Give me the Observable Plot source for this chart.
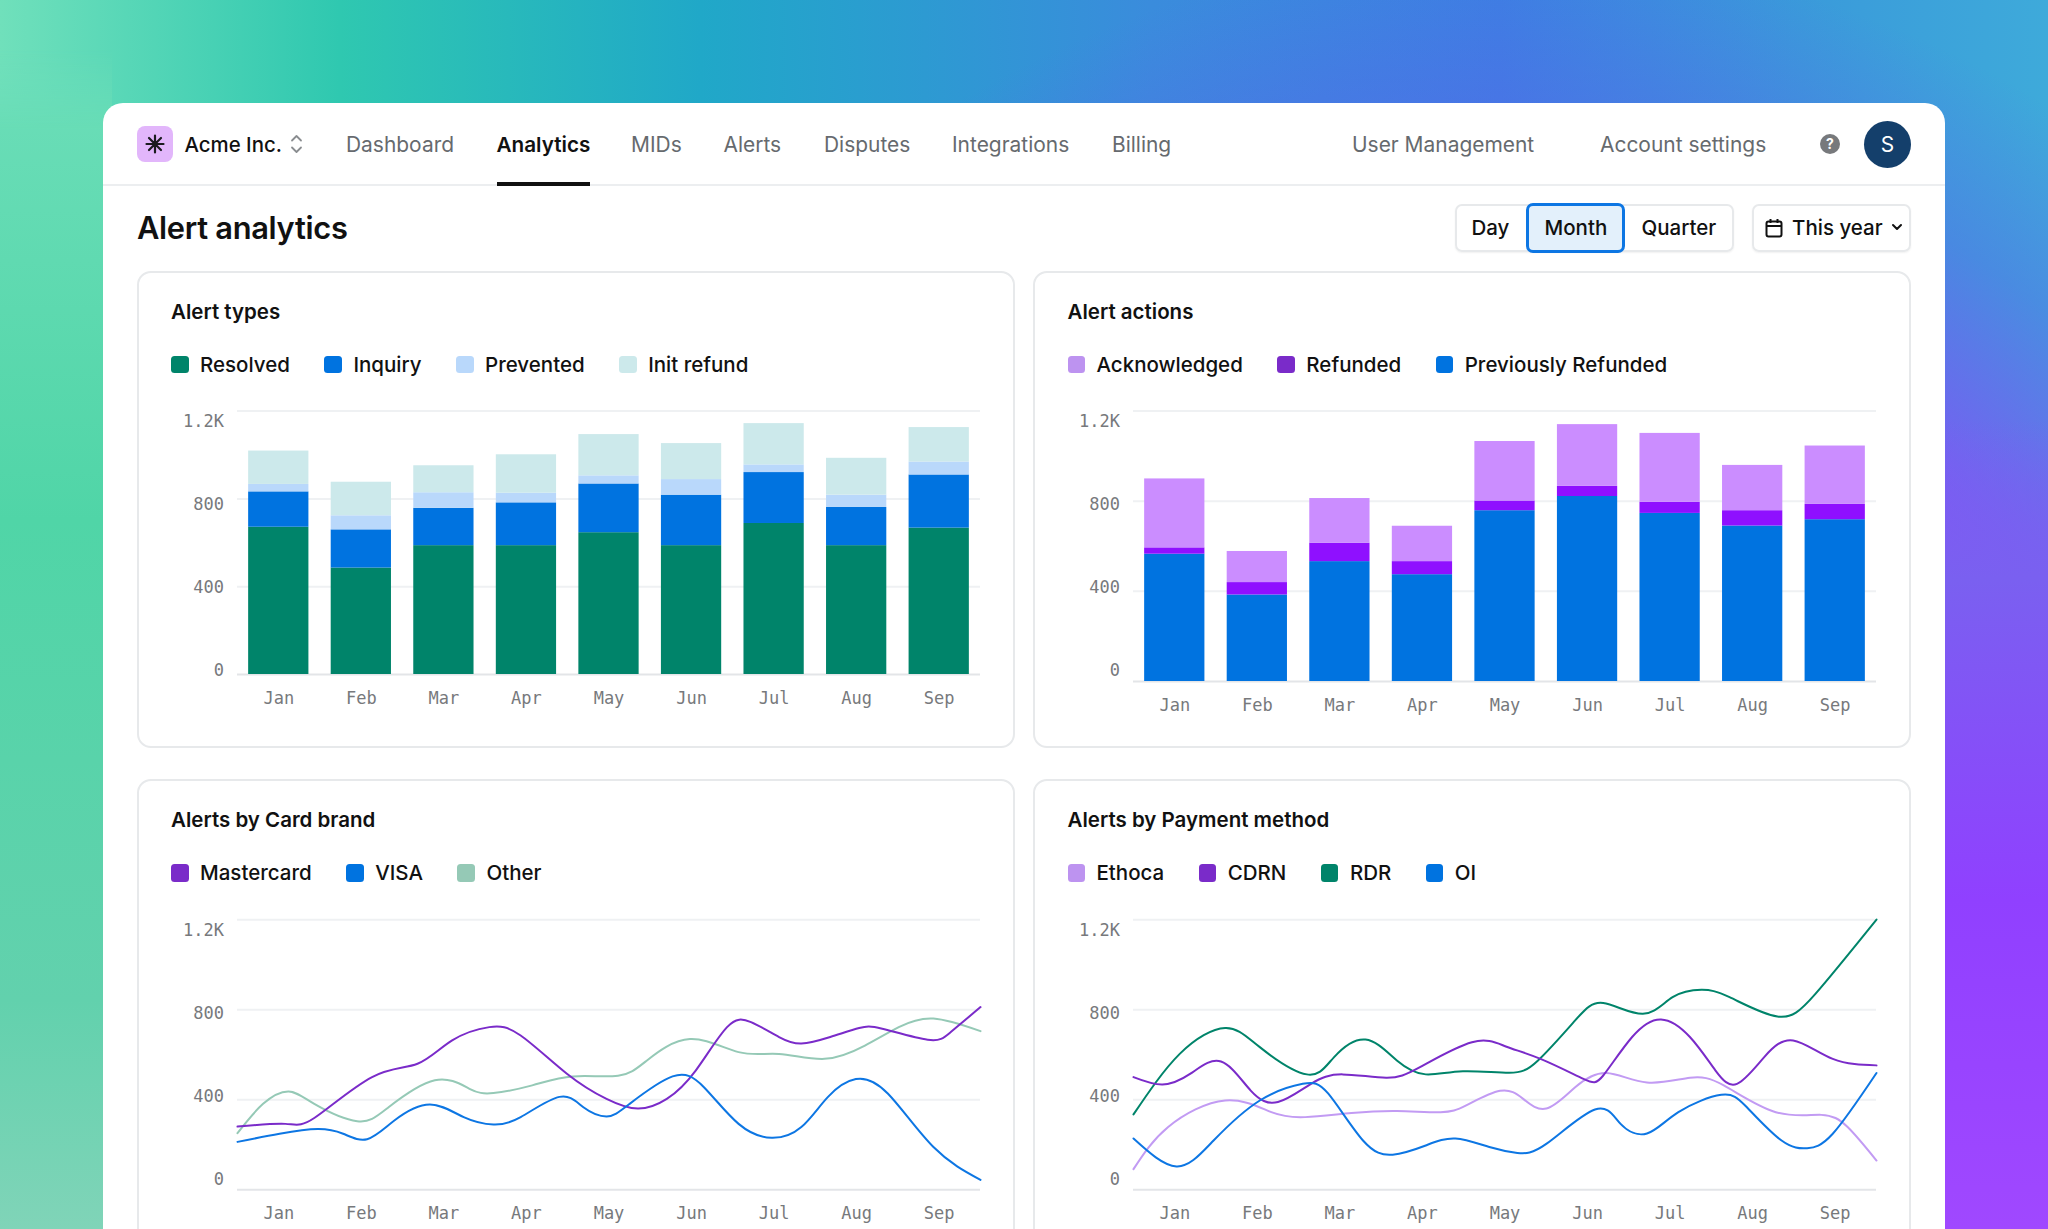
<!DOCTYPE html>
<html><head><meta charset="utf-8">
<script src="https://cdn.jsdelivr.net/npm/d3@7"></script>
<script src="https://cdn.jsdelivr.net/npm/@observablehq/plot@0.6"></script>
<style>
html,body{margin:0;padding:0;width:2048px;height:1229px;overflow:hidden}
body{position:relative;font-family:Inter,sans-serif;color:#111;
background:
 radial-gradient(circle 1000px at 1500px 1000px,#9a40ff 0,#9a40ff 52%,rgba(140,70,250,.75) 68%,rgba(90,100,235,.42) 88%,rgba(70,120,230,0) 105%),
 linear-gradient(90deg,#70e0bb 0,#2fc8b0 340px,#20a8c8 700px,#3a8cdc 1150px,#3c80e2 1500px,#3a9ada 1800px,#3eaada 2048px);}
.strip{position:absolute;left:0;top:0;width:112px;height:1229px;
background:linear-gradient(180deg,#70dfbb 0,#50d5a7 520px,#62d1ad 1000px,#80d4b8 1229px);
-webkit-mask-image:linear-gradient(180deg,transparent 50px,#000 130px)}
.stripR{position:absolute;left:1945px;top:420px;width:103px;height:809px;
background:linear-gradient(180deg,rgba(122,96,240,0) 0,#7a60f0 160px,#9040ff 480px,#a048ff 809px)}
.panel{position:absolute;left:103px;top:103px;width:1842px;height:1200px;background:#fff;border-radius:20px}
.a{position:absolute;white-space:nowrap}
.nav{font-size:20.95px;color:#666a6e;line-height:28px;top:131px;font-weight:400}
.nav.on{color:#111;font-weight:600;font-size:20.7px}
.card{position:absolute;box-sizing:border-box;border:2px solid #e7e9eb;border-radius:14px;background:#fff}
.ctitle{font-size:20.5px;font-weight:600;line-height:28px}
.legend{display:flex;align-items:center;gap:34.5px;font-size:20.5px;font-weight:500;line-height:28px}
.legend span.i{display:flex;align-items:center;gap:11.5px}
.legend b{display:block;width:17.5px;height:17.5px;border-radius:3.5px}
.plot{position:absolute}
.btn{font-size:20.5px;font-weight:500;line-height:28px;top:213.5px}
</style></head><body>
<div class="strip"></div><div class="stripR"></div>
<div class="panel"></div>
<div class="a" style="left:103px;top:184px;width:1842px;height:2px;background:#eceef0"></div>

<div class="a" style="left:137px;top:126px;width:36px;height:36px;border-radius:8px;background:#e2b6fb">
<svg width="36" height="36" viewBox="-18 -18 36 36" stroke="#1b1b1f" stroke-width="2.2" stroke-linecap="round"><path d="M0-8.5V8.5M-8.5 0H8.5M-6-6 6 6M-6 6 6-6"/></svg></div>
<div class="a nav" style="left:184.5px;color:#111;font-weight:500;font-size:20.4px">Acme Inc.</div>
<svg class="a" style="left:289px;top:133px" width="15" height="22" fill="none" stroke="#8a8d90" stroke-width="1.8" stroke-linecap="round" stroke-linejoin="round"><path d="M3 7.5 7.5 3 12 7.5M3 14.5 7.5 19 12 14.5"/></svg>
<div class="a nav" style="left:346px">Dashboard</div>
<div class="a nav on" style="left:496.5px">Analytics</div>
<div class="a" style="left:497px;top:182px;width:93px;height:3.5px;background:#111"></div>
<div class="a nav" style="left:631px">MIDs</div>
<div class="a nav" style="left:723.5px">Alerts</div>
<div class="a nav" style="left:824px">Disputes</div>
<div class="a nav" style="left:952px">Integrations</div>
<div class="a nav" style="left:1112px">Billing</div>
<div class="a nav" style="left:1352px">User Management</div>
<div class="a nav" style="left:1600px">Account settings</div>
<div class="a" style="left:1820px;top:134px;width:20px;height:20px;border-radius:50%;background:#77797c;color:#fff;font-size:14px;font-weight:700;line-height:20px;text-align:center">?</div>
<div class="a" style="left:1864px;top:120.5px;width:47px;height:47px;border-radius:50%;background:#143f6b;color:#fff;font-size:20.9px;line-height:47px;text-align:center">S</div>

<div class="a" style="left:137px;top:206.5px;font-size:30.8px;font-weight:600;line-height:42px;letter-spacing:-.3px">Alert analytics</div>
<div class="a" style="left:1455px;top:204px;width:279px;height:48px;box-sizing:border-box;border:2px solid #e7e9eb;border-radius:7px;box-shadow:0 1px 2px rgba(0,0,0,.06)"></div>
<div class="a" style="left:1526px;top:203px;width:99px;height:50px;box-sizing:border-box;border:3px solid #0d76e3;border-radius:7px;background:#e3f0fb"></div>
<div class="a btn" style="left:1471.5px">Day</div>
<div class="a btn" style="left:1544.5px">Month</div>
<div class="a btn" style="left:1641.5px">Quarter</div>
<div class="a" style="left:1752px;top:204px;width:159px;height:48px;box-sizing:border-box;border:2px solid #e7e9eb;border-radius:7px;box-shadow:0 1px 2px rgba(0,0,0,.06)"></div>
<svg class="a" style="left:1765px;top:218px" width="18" height="20" fill="none" stroke="#111" stroke-width="2"><rect x="1.5" y="3.5" width="15" height="15" rx="2"/><path d="M1.5 8H16.5M5.5 1V5M12.5 1V5"/></svg>
<div class="a btn" style="left:1792px">This year</div>
<svg class="a" style="left:1891px;top:222px" width="12" height="10" fill="none" stroke="#111" stroke-width="2" stroke-linecap="round" stroke-linejoin="round"><path d="M2 3 6 7 10 3"/></svg>

<div class="card" style="left:137px;top:270.5px;width:878px;height:477px"></div>
<div class="card" style="left:1033px;top:270.5px;width:878px;height:477px"></div>
<div class="card" style="left:137px;top:779px;width:878px;height:500px"></div>
<div class="card" style="left:1033px;top:779px;width:878px;height:500px"></div>

<div id="root"></div>
<script>
const months = ["Jan","Feb","Mar","Apr","May","Jun","Jul","Aug","Sep"];
const yTicks = [0,400,800,1200];
const yLabels = ["0","400","800","1.2K"];

// Alert types
const resolved  = [671,485,587,587,646,587,688,587,667];
const inquiry   = [161,174,170,195,222,230,232,174,242];
const prevented = [34,64,71,44,37,71,35,56,59];
const initRefund= [152,153,123,175,188,164,188,168,157];

// Alert actions
const previouslyRefunded = [565,384,532,474,758,821,746,690,718];
const refunded = [28,55,82,58,43,45,49,68,68];
const acknowledged = [306,138,198,157,264,274,306,201,259];

// Alerts by Card brand: position along the month axis (0 = start of Jan, 9 = end of Sep) and count
const mastercardX = [0,.58,.93,1.63,2.18,2.6,3.05,3.43,3.99,4.47,4.85,5.2,5.55,5.93,6.22,6.56,6.83,7.18,7.53,7.81,8.36,8.64,9];
const mastercardY = [281,293,319,501,560,664,723,686,516,404,361,404,530,723,745,679,650,679,719,716,667,701,812];
const visaX = [0,.51,.97,1.28,1.57,1.9,2.33,2.74,3.1,3.43,3.9,4.19,4.47,4.75,5.27,5.65,6.07,6.47,6.83,7.15,7.49,7.88,8.43,9];
const visaY = [213,249,270,249,225,308,379,323,290,323,413,367,326,382,504,456,293,231,279,412,492,427,190,44];
const otherX = [0,.31,.62,.93,1.45,1.83,2.39,2.81,3.1,3.57,4.06,4.61,4.96,5.48,6.07,6.56,7.11,7.6,8.01,8.43,9];
const otherY = [252,382,437,382,305,367,487,449,430,464,504,507,575,670,612,604,582,641,723,761,705];

// Alerts by Payment method
const ethocaX = [0,.42,1.11,1.67,2.08,2.64,3.19,3.72,4.03,4.44,4.72,5,5.35,5.73,6.22,6.74,7.15,7.78,8.33,8.65,9];
const ethocaY = [92,279,397,345,323,341,350,345,375,440,404,361,456,519,477,498,464,345,333,279,130];
const cdrnX = [0,.35,.69,1.06,1.42,1.75,2.15,2.53,3.06,3.47,4.1,4.51,4.93,5.45,5.69,6.04,6.39,6.74,7.05,7.31,7.64,7.99,8.47,9];
const cdrnY = [501,468,516,570,441,390,471,513,498,545,656,637,582,493,508,679,757,679,530,471,590,664,582,553];
const rdrX = [0,.56,1.11,1.53,2.1,2.43,2.81,3.19,3.54,3.99,4.55,4.9,5.35,5.69,6.17,6.53,6.88,7.22,7.8,8.26,9];
const rdrY = [335,604,719,634,513,590,668,575,513,527,520,575,753,830,782,856,889,856,770,871,1201];
const oiX = [0,.52,.97,1.53,2.05,2.36,2.78,3.14,3.54,3.9,4.31,4.65,5,5.59,5.9,6.22,6.6,7.12,7.43,7.85,8.16,8.47,9];
const oiY = [228,104,219,397,471,427,219,156,197,228,190,164,204,357,293,250,345,422,367,219,185,249,519];

const MONO = "'DejaVu Sans Mono',monospace";
const root = document.getElementById("root");

function place(node,left,top){ node.style.left=left+"px"; node.style.top=top+"px"; node.classList.add("plot"); root.appendChild(node); }
function text(cls,t,left,top){ const d=document.createElement("div"); d.className="a "+cls; d.textContent=t; d.style.left=left+"px"; d.style.top=top+"px"; root.appendChild(d); }
function legend(items,left,top){
  const d=document.createElement("div"); d.className="a legend"; d.style.left=left+"px"; d.style.top=top+"px";
  items.forEach(([n,c])=>{ const s=document.createElement("span"); s.className="i"; const b=document.createElement("b"); b.style.background=c; s.appendChild(b); s.append(n); d.appendChild(s); });
  root.appendChild(d);
}
function yMarks(){
  return yTicks.map(t=>Plot.ruleY([t],{stroke:t===0?"#e3e5e8":"#eff1f3",strokeWidth:2}));
}
function yLabelMarks(offsets){
  return yTicks.map((t,i)=>Plot.axisY([t],{anchor:"left",tickSize:0,tickPadding:13.5,label:null,dy:offsets[i],fill:"#77797c",tickFormat:()=>yLabels[i]}));
}
const base = {width:877,marginLeft:100,marginRight:34,
  style:{fontFamily:MONO,fontSize:"17px",background:"transparent",overflow:"visible"}};

function barChart({series,top,height,marginTop,marginBottom,offsets,xPad}){
  const rows = series.flatMap(([name,vals,color])=>months.map((m,i)=>({month:m,value:vals[i],name})));
  return place(Plot.plot({...base,height,marginTop,marginBottom,
    x:{type:"band",domain:months,paddingInner:.27,paddingOuter:.135,round:false,label:null},
    y:{domain:[0,1200],label:null},
    color:{domain:series.map(s=>s[0]),range:series.map(s=>s[2])},
    marks:[
      ...yMarks(),
      Plot.barY(rows,{x:"month",y:"value",fill:"name"}),
      Plot.axisX({tickSize:0,tickPadding:xPad,label:null,fill:"#77797c"}),
      ...yLabelMarks(offsets)
    ]}),...top);
}
function lineChart({series,top,height,marginTop,marginBottom,offsets,xPad}){
  const rows = series.flatMap(([name,xs,ys])=>xs.map((x,i)=>({x,y:ys[i],name})));
  const centers = months.map((m,i)=>i+.5);
  return place(Plot.plot({...base,height,marginTop,marginBottom,
    x:{type:"linear",domain:[0,9],label:null},
    y:{domain:[0,1200],label:null},
    color:{domain:series.map(s=>s[0]),range:series.map(s=>s[3])},
    marks:[
      ...yMarks(),
      Plot.line(rows,{x:"x",y:"y",z:"name",stroke:"name",strokeWidth:2,curve:"natural"}),
      Plot.axisX(centers,{tickSize:0,tickPadding:xPad,label:null,fill:"#77797c",tickFormat:c=>months[c-.5]}),
      ...yLabelMarks(offsets)
    ]}),...top);
}

// Card 1
text("ctitle","Alert types",171,297.5);
legend([["Resolved","#00846a"],["Inquiry","#0073e0"],["Prevented","#b9d8fb"],["Init refund","#cce9eb"]],171,350.5);
barChart({top:[137,390],height:340,marginTop:20.6,marginBottom:56,offsets:[-4,1,5.4,10.5],xPad:17.5,
  series:[["Resolved",resolved,"#00846a"],["Inquiry",inquiry,"#0073e0"],["Prevented",prevented,"#b9d8fb"],["Init refund",initRefund,"#cce9eb"]]});

// Card 2
text("ctitle","Alert actions",1067.5,297.5);
legend([["Acknowledged","#bd93f0"],["Refunded","#7a2bc9"],["Previously Refunded","#0073e0"]],1067.5,350.5);
barChart({top:[1033,390],height:347,marginTop:20.6,marginBottom:56,offsets:[-11,-3.7,3,10.5],xPad:17,
  series:[["Previously Refunded",previouslyRefunded,"#0073e0"],["Refunded",refunded,"#8f10ff"],["Acknowledged",acknowledged,"#cb8dff"]]});

// Card 3
text("ctitle","Alerts by Card brand",171,806);
legend([["Mastercard","#7a2bc9"],["VISA","#0073e0"],["Other","#95c9b6"]],171,859);
lineChart({top:[137,899],height:330,marginTop:20.3,marginBottom:39.7,offsets:[-10.3,-3.3,3.7,10.7],xPad:17,
  series:[["Other",otherX,otherY,"#95c9b6"],["Mastercard",mastercardX,mastercardY,"#7a2bc9"],["VISA",visaX,visaY,"#0d76e3"]]});

// Card 4
text("ctitle","Alerts by Payment method",1067.5,806);
legend([["Ethoca","#bd93f0"],["CDRN","#7a2bc9"],["RDR","#00846a"],["OI","#0073e0"]],1067.5,859);
lineChart({top:[1033,899],height:330,marginTop:20.3,marginBottom:39.7,offsets:[-10.3,-3.3,3.7,10.7],xPad:17,
  series:[["Ethoca",ethocaX,ethocaY,"#c29bf3"],["RDR",rdrX,rdrY,"#00846a"],["CDRN",cdrnX,cdrnY,"#7a2bc9"],["OI",oiX,oiY,"#0d76e3"]]});
</script>
</body></html>
